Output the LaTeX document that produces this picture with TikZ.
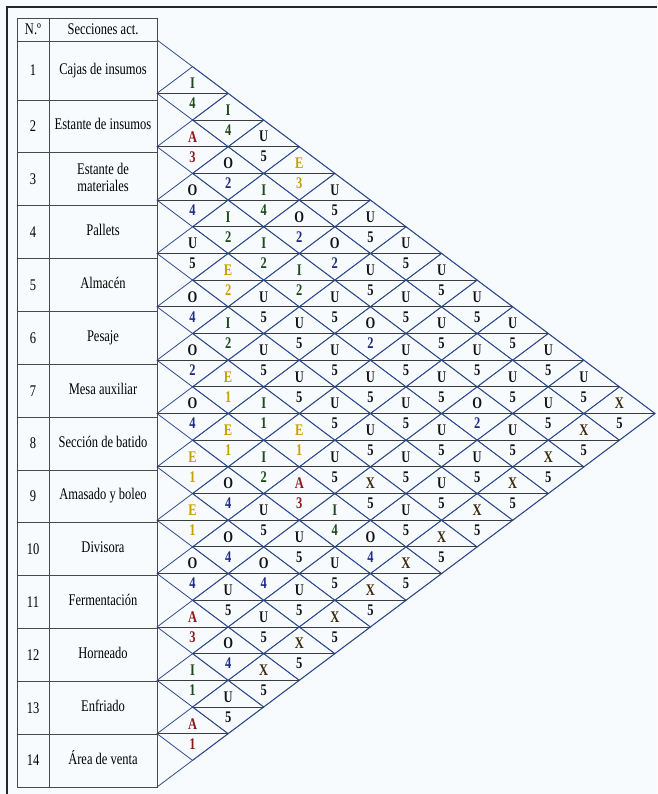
\documentclass[tikz,border=0pt]{standalone}
\usepackage{fontspec}
\setmainfont{Liberation Serif}
\usepackage{graphicx}
\usetikzlibrary{shapes.geometric}
\definecolor{grid}{HTML}{2D4B8E}
\definecolor{rule}{HTML}{3D3D3D}
\definecolor{tabln}{HTML}{4A4A4A}
\definecolor{paper}{HTML}{F8FBFD}
\definecolor{relA}{HTML}{8E1B1B}
\definecolor{relE}{HTML}{C6A000}
\definecolor{relI}{HTML}{1E4A1E}
\definecolor{relO}{HTML}{121212}
\definecolor{relU}{HTML}{121212}
\definecolor{relX}{HTML}{3A2A0A}
\definecolor{numA}{HTML}{8E1B1B}
\definecolor{numE}{HTML}{C6A000}
\definecolor{numI}{HTML}{1E4A1E}
\definecolor{numO}{HTML}{1F2B85}
\definecolor{numU}{HTML}{121212}
\definecolor{numX}{HTML}{121212}
\newcommand{\vstr}[1]{\scalebox{1}[1.3]{#1}}
\tikzset{
  every node/.style={font=\rmfamily},
  cell/.style={font=\fontsize{12.5}{13.5}\selectfont,inner sep=0pt,align=center},
  pair/.style={diamond,draw=grid,line width=0.8pt,minimum width=71.14pt,
               minimum height=53.36pt,inner sep=0pt,outer sep=0pt},
  mid/.style={draw=rule,line width=0.9pt},
  diag/.style={draw=grid,line width=0.8pt},
  tab/.style={draw=tabln,line width=0.9pt},
  rel/.style={font=\fontsize{12.5}{13}\selectfont\bfseries,inner sep=0pt},
}

\begin{document}
\begin{tikzpicture}[x=1pt,y=-1pt]
\useasboundingbox (0,0) rectangle (657,794);
\fill[paper] (0,0) rectangle (657,794);
\draw[line width=1.6pt,black!85] (7,794) -- (7,7) -- (657,7);

\draw[tab] (17,18) rectangle (157,787);
\draw[tab] (49,18) -- (49,787);
\foreach \b in {41,100,152.85,205.7,258.55,311.4,364.25,417.1,469.95,522.8,575.65,628.5,681.35,734.2}
  \draw[tab] (17,\b) -- (157,\b);
\node[cell] (no-0) at (33,29.5) {\vstr{N.º}};
\node[cell] (sec-0) at (103,29.5) {\vstr{Secciones act.}};
\foreach \k/\yc/\nm in {1/70.5/Cajas de insumos,2/126.4/Estante de insumos,
    3/179.3/{Estante de\\materiales},4/232.1/Pallets,5/285.0/Almacén,6/337.8/Pesaje,
    7/390.7/Mesa auxiliar,8/443.5/Sección de batido,9/496.4/Amasado y boleo,
    10/549.2/Divisora,11/602.1/Fermentación,12/654.9/Horneado,13/707.8/Enfriado,
    14/760.6/Área de venta}{
  \node[cell] (no-\k) at (33,\yc) {\vstr{\k}};
  \node[cell] (sec-\k) at (103,\yc) {\vstr{\begin{tabular}{@{}c@{}}\nm\end{tabular}}};
}

\draw[diag] (157,40) -- (655,413.5) -- (157,787);
\foreach \i/\j/\L/\N in {
    1/2/I/4,1/3/I/4,1/4/U/5,1/5/E/3,1/6/U/5,1/7/U/5,1/8/U/5,1/9/U/5,1/10/U/5,
    1/11/U/5,1/12/U/5,1/13/U/5,1/14/X/5,
    2/3/A/3,2/4/O/2,2/5/I/4,2/6/O/2,2/7/O/2,2/8/U/5,2/9/U/5,2/10/U/5,2/11/U/5,
    2/12/U/5,2/13/U/5,2/14/X/5,
    3/4/O/4,3/5/I/2,3/6/I/2,3/7/I/2,3/8/U/5,3/9/O/2,3/10/U/5,3/11/U/5,3/12/O/2,
    3/13/U/5,3/14/X/5,
    4/5/U/5,4/6/E/2,4/7/U/5,4/8/U/5,4/9/U/5,4/10/U/5,4/11/U/5,4/12/U/5,4/13/U/5,
    4/14/X/5,
    5/6/O/4,5/7/I/2,5/8/U/5,5/9/U/5,5/10/U/5,5/11/U/5,5/12/U/5,5/13/U/5,5/14/X/5,
    6/7/O/2,6/8/E/1,6/9/I/1,6/10/E/1,6/11/U/5,6/12/X/5,6/13/U/5,6/14/X/5,
    7/8/O/4,7/9/E/1,7/10/I/2,7/11/A/3,7/12/I/4,7/13/O/4,7/14/X/5,
    8/9/E/1,8/10/O/4,8/11/U/5,8/12/U/5,8/13/U/5,8/14/X/5,
    9/10/E/1,9/11/O/4,9/12/O/4,9/13/U/5,9/14/X/5,
    10/11/O/4,10/12/U/5,10/13/U/5,10/14/X/5,
    11/12/A/3,11/13/O/4,11/14/X/5,
    12/13/I/1,12/14/U/5,
    13/14/A/1}{
  \pgfmathsetmacro\px{157+35.57*(\j-\i)}
  \pgfmathsetmacro\py{40+26.68*(\i+\j-1)}
  \node[pair] (p-\i-\j) at (\px,\py) {};
  \draw[mid] (p-\i-\j.west) -- (p-\i-\j.east);
  \node[rel,text=rel\L] (l-\i-\j) at ([yshift=10pt]p-\i-\j.center) {\vstr{\L}};
  \node[rel,text=num\L] (n-\i-\j) at ([yshift=-10pt]p-\i-\j.center) {\vstr{\N}};
}
\end{tikzpicture}
\end{document}
